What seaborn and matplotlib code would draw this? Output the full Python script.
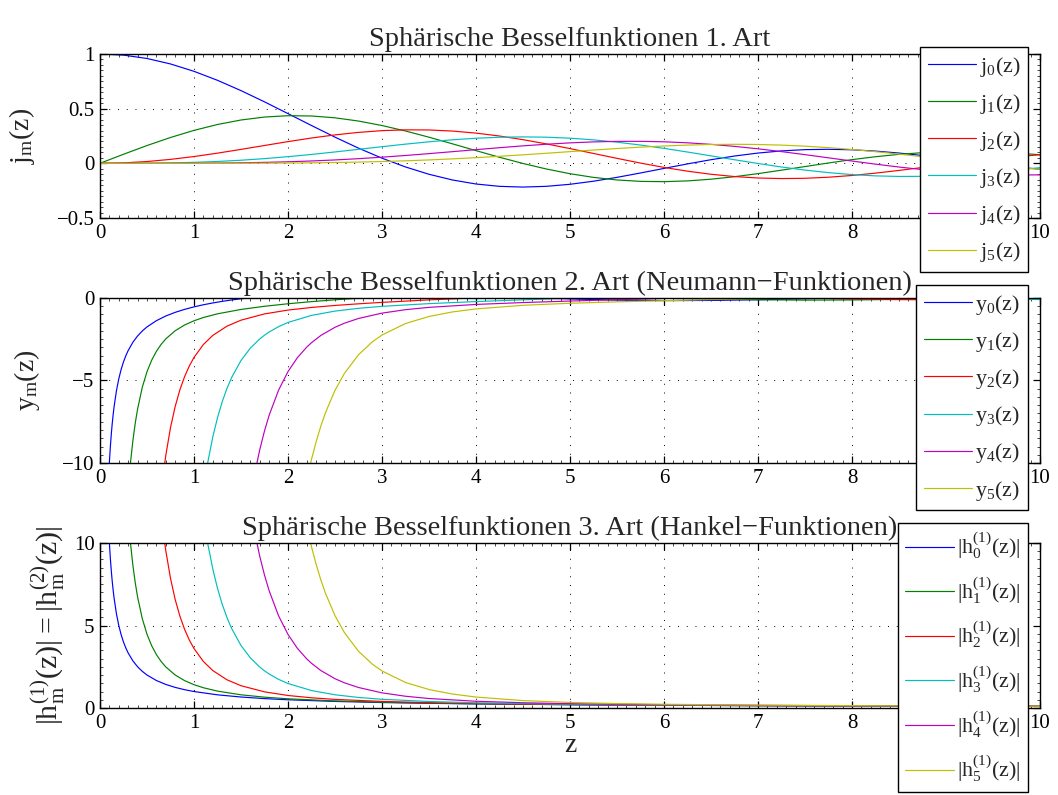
import matplotlib
matplotlib.use("Agg")
import matplotlib.pyplot as plt
import seaborn as sns
from matplotlib.ticker import MultipleLocator, AutoMinorLocator, FuncFormatter

# ---- values (z on the x axis) ----
z_grid = [0.0, 0.25, 0.5, 0.75, 1.0, 1.25, 1.5, 1.75, 2.0, 2.25, 2.5, 2.75, 3.0, 3.25,
          3.5, 3.75, 4.0, 4.25, 4.5, 4.75, 5.0, 5.25, 5.5, 5.75, 6.0, 6.25, 6.5, 6.75,
          7.0, 7.25, 7.5, 7.75, 8.0, 8.25, 8.5, 8.75, 9.0, 9.25, 9.5, 9.75, 10.0]

j0 = [1.0, 0.9896, 0.9589, 0.9089, 0.8415, 0.7592, 0.6650, 0.5623, 0.4546, 0.3458, 0.2394,
      0.1388, 0.0470, -0.0333, -0.1002, -0.1524, -0.1892, -0.2106, -0.2172, -0.2104, -0.1918,
      -0.1636, -0.1283, -0.0884, -0.0466, -0.0053, 0.0331, 0.0667, 0.0939, 0.1135, 0.1251,
      0.1283, 0.1237, 0.1118, 0.0939, 0.0714, 0.0458, 0.0188, -0.0079, -0.0328, -0.0544]
j1 = [0.0, 0.0828, 0.1625, 0.2362, 0.3012, 0.3551, 0.3962, 0.4232, 0.4354, 0.4329, 0.4162,
      0.3866, 0.3457, 0.2956, 0.2389, 0.1782, 0.1161, 0.0554, -0.0014, -0.0522, -0.0951,
      -0.1287, -0.1522, -0.1651, -0.1678, -0.1608, -0.1452, -0.1224, -0.0943, -0.0627, -0.0295,
      0.0032, 0.0337, 0.0603, 0.0819, 0.0974, 0.1063, 0.1085, 0.1041, 0.0938, 0.0785]
j2 = [0.0, 0.0041, 0.0164, 0.0360, 0.0620, 0.0930, 0.1274, 0.1631, 0.1985, 0.2314, 0.2600,
      0.2829, 0.2987, 0.3062, 0.3050, 0.2950, 0.2763, 0.2497, 0.2163, 0.1774, 0.1347,
      0.0901, 0.0453, 0.0022, -0.0373, -0.0719, -0.1001, -0.1211, -0.1343, -0.1395, -0.1369,
      -0.1271, -0.1111, -0.0899, -0.0650, -0.0380, -0.0104, 0.0164, 0.0408, 0.0616, 0.0780]
j3 = [0.0, 0.0001, 0.0012, 0.0039, 0.0090, 0.0170, 0.0283, 0.0429, 0.0607, 0.0813, 0.1039,
      0.1278, 0.1521, 0.1754, 0.1968, 0.2151, 0.2293, 0.2384, 0.2417, 0.2389, 0.2298,
      0.2145, 0.1934, 0.1671, 0.1367, 0.1033, 0.0682, 0.0327, -0.0016, -0.0335, -0.0618,
      -0.0852, -0.1031, -0.1148, -0.1201, -0.1191, -0.1121, -0.0996, -0.0826, -0.0622, -0.0395]
j4 = [0.0, 0.0, 0.0001, 0.0003, 0.0010, 0.0024, 0.0048, 0.0086, 0.0141, 0.0215, 0.0309,
      0.0425, 0.0562, 0.0716, 0.0886, 0.1066, 0.1250, 0.1429, 0.1597, 0.1747, 0.1870,
      0.1959, 0.2008, 0.2012, 0.1968, 0.1875, 0.1735, 0.1550, 0.1327, 0.1071, 0.0792,
      0.0502, 0.0209, -0.0075, -0.0339, -0.0573, -0.0768, -0.0918, -0.1017, -0.1063, -0.1057]
j5 = [0.0, 0.0, 0.0, 0.0, 0.0001, 0.0003, 0.0007, 0.0014, 0.0026, 0.0046, 0.0074,
      0.0112, 0.0164, 0.0230, 0.0310, 0.0407, 0.0518, 0.0642, 0.0777, 0.0921, 0.1068,
      0.1214, 0.1352, 0.1478, 0.1585, 0.1668, 0.1720, 0.1740, 0.1722, 0.1665, 0.1568,
      0.1434, 0.1266, 0.1066, 0.0842, 0.0602, 0.0353, 0.0103, -0.0137, -0.0359, -0.0556]

z_tail2 = [2.0, 2.5, 3.0, 3.5, 4.0, 4.5, 5.0, 5.5, 6.0, 6.5, 7.0, 7.5, 8.0, 8.5, 9.0, 9.5, 10.0]
z_mid = [2.0, 2.25, 2.5, 2.75]
z_tail3 = [3.0, 3.5, 4.0, 4.5, 5.0, 5.5, 6.0, 6.5, 7.0, 7.5, 8.0, 8.5, 9.0, 9.5, 10.0]
z_tail35 = [3.5, 4.0, 4.5, 5.0, 5.5, 6.0, 6.5, 7.0, 7.5, 8.0, 8.5, 9.0, 9.5, 10.0]
z_tail4 = [4.0, 4.5, 5.0, 5.5, 6.0, 6.5, 7.0, 7.5, 8.0, 8.5, 9.0, 9.5, 10.0]

z_y0 = [0.09, 0.1, 0.11, 0.12, 0.13, 0.14, 0.15, 0.175, 0.2, 0.225, 0.25, 0.275, 0.3, 0.35,
        0.4, 0.45, 0.5, 0.6, 0.7, 0.8, 0.9, 1.0, 1.1, 1.2, 1.3, 1.4, 1.5] + z_tail2
y0 = [-11.07, -9.950, -9.036, -8.273, -7.627, -7.073, -6.592, -5.627, -4.900, -4.332, -3.876,
      -3.500, -3.184, -2.684, -2.303, -2.001, -1.755, -1.376, -1.093, -0.871, -0.691, -0.540,
      -0.412, -0.302, -0.206, -0.121, -0.047,
      0.208, 0.320, 0.330, 0.268, 0.163, 0.047, -0.057, -0.129, -0.160, -0.150, -0.108,
      -0.046, 0.018, 0.071, 0.101, 0.105, 0.084]
z_y1 = [0.3, 0.325, 0.35, 0.375, 0.4, 0.45, 0.5, 0.55, 0.6, 0.65, 0.7, 0.8, 0.9, 1.0, 1.1,
        1.25, 1.5, 1.75] + z_mid + z_tail3
y1 = [-11.600, -9.954, -8.648, -7.594, -6.730, -5.413, -4.469, -3.769, -3.234, -2.815, -2.481,
      -1.985, -1.638, -1.382, -1.185, -0.961, -0.696, -0.504,
      -0.351, -0.222, -0.111, -0.017,
      0.063, 0.177, 0.230, 0.228, 0.181, 0.105, 0.020, -0.056, -0.109, -0.131, -0.121,
      -0.086, -0.035, 0.019, 0.063]
z_y2 = [0.65, 0.675, 0.7, 0.75, 0.8, 0.85, 0.9, 0.95, 1.0, 1.1, 1.2, 1.35, 1.5, 1.75] \
    + z_mid + z_tail3
y2 = [-11.77, -10.573, -9.541, -7.863, -6.574, -5.567, -4.768, -4.127, -3.605, -2.820, -2.269,
      -1.711, -1.346, -0.966,
      -0.734, -0.575, -0.454, -0.354,
      -0.267, -0.116, 0.009, 0.105, 0.165, 0.186, 0.170, 0.124, 0.061, -0.006, -0.064,
      -0.101, -0.113, -0.099, -0.065]
z_y3 = [1.1, 1.15, 1.2, 1.25, 1.3, 1.35, 1.4, 1.5, 1.6, 1.7, 1.75, 1.8, 1.9] + z_mid + z_tail3
y3 = [-11.63, -9.859, -8.425, -7.256, -6.293, -5.494, -4.826, -3.789, -3.037, -2.480, -2.256,
      -2.060, -1.737,
      -1.484, -1.056, -0.796, -0.627,
      -0.508, -0.343, -0.219, -0.111, -0.016, 0.064, 0.122, 0.152, 0.153, 0.127, 0.082,
      0.026, -0.028, -0.071, -0.095]
z_y4 = [1.6, 1.65, 1.7, 1.75, 1.8, 1.9, 2.0, 2.1, 2.2, 2.25, 2.35, 2.5, 2.6, 2.75, 3.0,
        3.25] + z_tail35
y4 = [-12.12, -10.53, -9.187, -8.058, -7.099, -5.583, -4.461, -3.618, -2.974, -2.710, -2.269,
      -1.776, -1.529, -1.243, -0.918, -0.710,
      -0.569, -0.392, -0.278, -0.187, -0.104, -0.028, 0.039, 0.092, 0.125, 0.135, 0.123,
      0.091, 0.047, -0.002]
z_y5 = [2.1, 2.2, 2.25, 2.3, 2.35, 2.4, 2.5, 2.6, 2.75, 2.9, 3.0, 3.25, 3.5, 3.75] + z_tail4
y5 = [-14.22, -11.04, -9.782, -8.695, -7.753, -6.935, -5.598, -4.572, -3.440, -2.646, -2.247,
      -1.549, -1.121, -0.846,
      -0.663, -0.444, -0.321, -0.235, -0.164, -0.098, -0.035, 0.023, 0.070, 0.104, 0.119,
      0.115, 0.094]

z_h0 = [0.09, 0.1, 0.11, 0.12, 0.13, 0.14, 0.15, 0.175, 0.2, 0.225, 0.25, 0.275, 0.3, 0.35,
        0.4, 0.45, 0.5, 0.6, 0.7, 0.8, 0.9, 1.0, 1.25, 1.5, 1.75, 2.0, 2.5, 3.0, 3.5, 4.0,
        5.0, 6.0, 7.0, 8.0, 9.0, 10.0]
h0 = [11.111, 10.0, 9.091, 8.333, 7.692, 7.143, 6.667, 5.714, 5.0, 4.444, 4.0, 3.636, 3.333,
      2.857, 2.5, 2.222, 2.0, 1.667, 1.429, 1.25, 1.111, 1.0, 0.8, 0.667, 0.571, 0.5, 0.4,
      0.333, 0.286, 0.25, 0.2, 0.167, 0.143, 0.125, 0.111, 0.1]
z_h1 = [0.3, 0.325, 0.35, 0.375, 0.4, 0.45, 0.5, 0.55, 0.6, 0.65, 0.7, 0.8, 0.9, 1.0, 1.1,
        1.25, 1.5, 1.75, 2.0, 2.5, 3.0, 3.5, 4.0, 5.0, 6.0, 7.0, 8.0, 9.0, 10.0]
h1 = [11.600, 9.955, 8.649, 7.595, 6.731, 5.415, 4.472, 3.773, 3.239, 2.823, 2.491, 2.001,
      1.661, 1.414, 1.229, 1.025, 0.801, 0.658, 0.559, 0.431, 0.351, 0.297, 0.258, 0.204,
      0.169, 0.144, 0.126, 0.112, 0.1005]
z_h2 = [0.65, 0.675, 0.7, 0.75, 0.8, 0.85, 0.9, 0.95, 1.0, 1.1, 1.2, 1.35, 1.5, 1.75, 2.0,
        2.25, 2.5, 3.0, 3.5, 4.0, 5.0, 6.0, 7.0, 8.0, 9.0, 10.0]
h2 = [11.769, 10.573, 9.541, 7.863, 6.574, 5.567, 4.769, 4.127, 3.606, 2.821, 2.271, 1.714,
      1.352, 0.980, 0.760, 0.620, 0.523, 0.401, 0.326, 0.276, 0.213, 0.174, 0.147, 0.128,
      0.113, 0.1015]
z_h3 = [1.1, 1.15, 1.2, 1.25, 1.3, 1.35, 1.4, 1.5, 1.6, 1.7, 1.75, 1.8, 1.9, 2.0, 2.25, 2.5,
        2.75, 3.0, 3.5, 4.0, 5.0, 6.0, 7.0, 8.0, 9.0, 10.0]
h3 = [11.632, 9.859, 8.425, 7.256, 6.293, 5.494, 4.826, 3.789, 3.038, 2.481, 2.256, 2.060,
      1.737, 1.486, 1.059, 0.803, 0.640, 0.530, 0.395, 0.317, 0.230, 0.183, 0.153, 0.131,
      0.116, 0.103]
z_h4 = [1.6, 1.65, 1.7, 1.75, 1.8, 1.9, 2.0, 2.1, 2.2, 2.25, 2.35, 2.5, 2.6, 2.75, 3.0, 3.25,
        3.5, 4.0, 4.5, 5.0, 6.0, 7.0, 8.0, 9.0, 10.0]
h4 = [12.121, 10.526, 9.187, 8.058, 7.099, 5.583, 4.461, 3.618, 2.974, 2.710, 2.269, 1.777,
      1.529, 1.244, 0.920, 0.714, 0.576, 0.411, 0.320, 0.264, 0.199, 0.161, 0.137, 0.119,
      0.106]
z_h5 = [2.1, 2.2, 2.25, 2.3, 2.35, 2.4, 2.5, 2.6, 2.75, 2.9, 3.0, 3.25, 3.5, 3.75, 4.0, 4.5,
        5.0, 5.5, 6.0, 7.0, 8.0, 9.0, 10.0]
h5 = [14.220, 11.042, 9.782, 8.695, 7.753, 6.935, 5.599, 4.572, 3.440, 2.646, 2.247, 1.549,
      1.121, 0.847, 0.665, 0.451, 0.338, 0.271, 0.228, 0.176, 0.145, 0.124, 0.109]

titles = ["Sphärische Besselfunktionen 1. Art",
          "Sphärische Besselfunktionen 2. Art (Neumann\u2212Funktionen)",
          "Sphärische Besselfunktionen 3. Art (Hankel\u2212Funktionen)"]
ylabels = [r"$\mathregular{j_m(z)}$", r"$\mathregular{y_m(z)}$",
           r"$\mathregular{|h_m^{(1)}(z)| = |h_m^{(2)}(z)|}$"]

# matlab default line colours
colors = [(0, 0, 1), (0, 0.5, 0), (1, 0, 0), (0, 0.75, 0.75), (0.75, 0, 0.75), (0.75, 0.75, 0)]

sns.set_style("ticks")
plt.rcParams["font.family"] = ["Liberation Serif", "DejaVu Serif"]
plt.rcParams["mathtext.fontset"] = "custom"
plt.rcParams["mathtext.rm"] = "Liberation Serif"

fig = plt.figure(figsize=(10.58, 7.95), dpi=100)
ax1 = fig.add_axes([0.0945, 0.7258, 0.8885, 0.2063])
ax2 = fig.add_axes([0.0945, 0.4176, 0.8885, 0.2076])
ax3 = fig.add_axes([0.0945, 0.1094, 0.8885, 0.2076])

panels = [
    (ax1, [(z_grid, j0), (z_grid, j1), (z_grid, j2), (z_grid, j3), (z_grid, j4), (z_grid, j5)],
     [r"$\mathregular{j_%d(z)}$" % i for i in range(6)]),
    (ax2, [(z_y0, y0), (z_y1, y1), (z_y2, y2), (z_y3, y3), (z_y4, y4), (z_y5, y5)],
     [r"$\mathregular{y_%d(z)}$" % i for i in range(6)]),
    (ax3, [(z_h0, h0), (z_h1, h1), (z_h2, h2), (z_h3, h3), (z_h4, h4), (z_h5, h5)],
     [r"$\mathregular{|h_%d^{(1)}(z)|}$" % i for i in range(6)]),
]

ylims = [(-0.5, 1), (-10, 0), (0, 10)]
ysteps = [0.5, 5, 5]
leg_anchor = [(0.9716, 0.9409), (0.9716, 0.6415), (0.9716, 0.3421)]
leg_spacing = [0.6, 0.6, 0.64]
ylab_x = [-0.067, -0.062, -0.035]
ylab_size = [20, 20, 21.5]

matlab_fmt = FuncFormatter(lambda v, p: ("%g" % (0 if abs(v) < 1e-12 else v)).replace("-", "\u2212"))

for k, (ax, curves, labels) in enumerate(panels):
    for (zz, vv), c, lab in zip(curves, colors, labels):
        sns.lineplot(x=zz, y=vv, ax=ax, color=c, linewidth=0.85, label=lab,
                     sort=False, estimator=None)
    ax.set_xlim(0, 10)
    ax.set_ylim(*ylims[k])
    ax.xaxis.set_major_locator(MultipleLocator(1))
    ax.yaxis.set_major_locator(MultipleLocator(ysteps[k]))
    ax.xaxis.set_minor_locator(AutoMinorLocator(10))
    ax.yaxis.set_minor_locator(AutoMinorLocator(10))
    ax.xaxis.set_major_formatter(matlab_fmt)
    ax.yaxis.set_major_formatter(matlab_fmt)
    ax.tick_params(which="both", direction="in", top=True, right=True, labelsize=15,
                   colors="black", pad=4)
    ax.tick_params(which="major", length=5, width=0.9)
    ax.tick_params(which="minor", length=2, width=0.5)
    ax.grid(True, which="major", color="black", linestyle=(0, (1, 8)), linewidth=0.7)
    for s in ax.spines.values():
        s.set_linewidth(1.0)
        s.set_color("black")
    ax.set_title(titles[k], fontsize=20.5, pad=6)
    ax.set_ylabel(ylabels[k], fontsize=ylab_size[k])
    ax.yaxis.set_label_coords(ylab_x[k], 0.5)
    leg = ax.legend(loc="upper right", bbox_to_anchor=leg_anchor[k],
                    bbox_transform=fig.transFigure, fontsize=15.8, frameon=True,
                    fancybox=False, edgecolor="black", framealpha=1,
                    handlelength=2.2, handletextpad=0.15, labelspacing=leg_spacing[k],
                    borderpad=0.35, borderaxespad=0)
    leg.get_frame().set_linewidth(1.0)
    leg.set_zorder(10)

ax3.set_xlabel("z", fontsize=20, labelpad=0)

fig.savefig("out.png", dpi=100)
